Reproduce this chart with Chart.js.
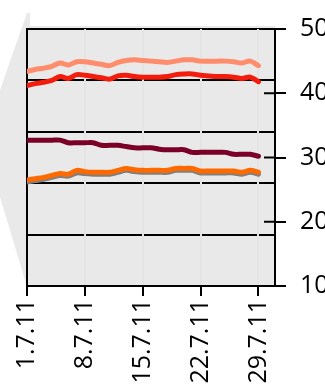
<!DOCTYPE html>
<html>
<head>
<meta charset="utf-8">
<script src="https://cdn.jsdelivr.net/npm/chart.js@4/dist/chart.umd.min.js"></script>
<style>
  html, body { margin: 0; padding: 0; background: #fff; overflow: hidden; width: 325px; height: 385px; }
  #wrap { position: relative; width: 350px; height: 385px; }
  #wedge { position: absolute; left: 0; top: 0; width: 30px; height: 385px; background: #e9e9e9;
           clip-path: polygon(27px 13px, 0px 90px, 0px 197px, 27px 287px, 30px 287px, 30px 13px); }
  canvas { position: relative; }
</style>
</head>
<body>
<div id="wrap">
  <div id="wedge"></div>
  <canvas id="chart"></canvas>
</div>
<script>
// days of July 2011
let days = [1,2,3,4,5,6,7,8,9,10,11,12,13,14,15,16,17,18,19,20,21,22,23,24,25,26,27,28,29];
let tickDays = [1, 8, 15, 22, 29];
let tickLabels = ['1.7.11', '8.7.11', '15.7.11', '22.7.11', '29.7.11'];
let rightTicks = [10, 20, 30, 40, 50];

let salmon = [43.4,43.7,43.9,44.2,44.7,44.4,44.9,44.9,44.7,44.5,44.3,44.8,45.1,45.2,45.1,45.0,44.9,44.8,45.0,45.2,45.2,45.0,45.0,45.0,45.0,44.9,44.7,45.0,44.3];
let red = [41.2,41.5,41.7,42.0,42.6,42.3,42.9,42.8,42.6,42.4,42.2,42.7,42.8,42.6,42.5,42.5,42.5,42.6,42.9,43.0,43.0,42.8,42.7,42.6,42.6,42.5,42.3,42.5,41.8];
let maroon = [32.7,32.7,32.7,32.7,32.7,32.3,32.3,32.3,32.3,31.9,31.9,31.9,31.7,31.5,31.5,31.5,31.3,31.2,31.2,31.2,30.8,30.8,30.8,30.8,30.8,30.5,30.5,30.5,30.2];
let orange = [26.5,26.7,26.9,27.2,27.5,27.4,28.0,27.8,27.7,27.7,27.7,28.0,28.3,28.1,28.0,28.0,28.0,28.0,28.3,28.3,28.3,27.9,27.9,27.9,27.9,27.9,27.7,28.0,27.7];
let grey = [26.2,26.4,26.6,26.9,27.2,27.1,27.6,27.5,27.4,27.4,27.4,27.7,28.0,27.8,27.7,27.7,27.7,27.7,28.0,28.0,28.0,27.6,27.6,27.6,27.6,27.6,27.4,27.7,27.4];

const pts = arr => arr.map((v, i) => ({ x: days[i], y: v }));

const line = (data, color) => ({
    data: pts(data),
    borderColor: color,
    borderWidth: 5,
    pointRadius: 0,
    tension: 0.35,
    borderCapStyle: 'round',
    borderJoinStyle: 'round',
    yAxisID: 'y',
    fill: false
});

// plot background + inner half of right axis ticks
const plotBits = {
    id: 'plotBits',
    beforeDraw(chart) {
        const a = chart.chartArea, c = chart.ctx;
        c.save();
        c.fillStyle = '#e9e9e9';
        c.fillRect(a.left, a.top - 3, a.right - a.left, a.bottom - a.top + 3);
        c.restore();
    },
    afterDraw(chart) {
        const s = chart.scales.y, a = chart.chartArea, c = chart.ctx;
        c.save();
        c.strokeStyle = '#000';
        c.lineWidth = 2;
        s.ticks.forEach(t => {
            const y = s.getPixelForValue(t.value);
            c.beginPath();
            c.moveTo(a.right - 11, y);
            c.lineTo(a.right, y);
            c.stroke();
        });
        c.restore();
    }
};

const font = { family: '"Open Sans", sans-serif', size: 25 };

new Chart(document.getElementById('chart'), {
    type: 'line',
    data: {
        datasets: [
            line(salmon, '#ff8c6b'),
            line(red, '#f41c0c'),
            line(maroon, '#7a0028'),
            line(orange, '#ff6a00'),
            line(grey, '#7f7f7f')
        ]
    },
    options: {
        responsive: true,
        maintainAspectRatio: false,
        animation: false,
        layout: { padding: { left: 27, top: 16, right: 0, bottom: 0 } },
        plugins: { legend: { display: false }, tooltip: { enabled: false } },
        scales: {
            x: {
                type: 'linear',
                min: 1,
                max: 31,
                afterBuildTicks: s => { s.ticks = tickDays.map(v => ({ value: v })); },
                afterFit: s => { s.height = 99; },
                ticks: {
                    autoSkip: false,
                    minRotation: 90,
                    maxRotation: 90,
                    padding: 3,
                    color: '#000',
                    font: font,
                    callback: v => tickLabels[tickDays.indexOf(v)]
                },
                grid: {
                    color: ctx => ctx.index === 0 ? 'rgba(0,0,0,0)' : '#e4e4e4',
                    lineWidth: 2,
                    tickColor: '#000',
                    tickWidth: 2,
                    tickLength: 10,
                    z: 0
                },
                border: { color: '#000', width: 2 }
            },
            g: {
                position: 'left',
                min: 0,
                max: 5,
                afterBuildTicks: s => { s.ticks = [0,1,2,3,4,5].map(v => ({ value: v })); },
                afterFit: s => { s.width = 0; },
                ticks: { display: false },
                grid: { color: '#000', lineWidth: 2, drawTicks: false, z: -1 },
                border: { color: '#000', width: 2 }
            },
            y: {
                position: 'right',
                min: 10,
                max: 50,
                afterBuildTicks: s => { s.ticks = rightTicks.map(v => ({ value: v })); },
                afterFit: s => { s.width = 75; },
                ticks: { color: '#000', font: font, padding: 14 },
                grid: { drawOnChartArea: false, color: '#000', lineWidth: 2, tickLength: 11 },
                border: { color: '#000', width: 2 }
            }
        }
    },
    plugins: [plotBits]
});
</script>
</body>
</html>
